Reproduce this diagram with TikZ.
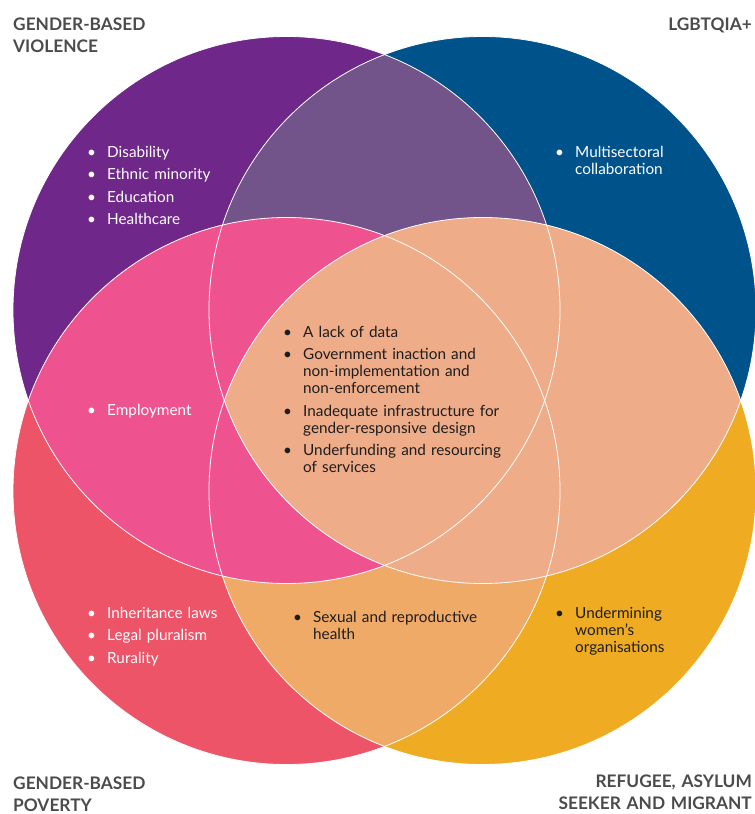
\documentclass[tikz,border=0pt]{standalone}
\usepackage{fontspec}
\setmainfont{Lato}
\usepackage{xcolor}
\usetikzlibrary{positioning}

\definecolor{violet}{HTML}{70278A}
\definecolor{navy}{HTML}{00528A}
\definecolor{coral}{HTML}{EE5468}
\definecolor{amber}{HTML}{EFAB22}
\definecolor{mauve}{HTML}{72538A}
\definecolor{rose}{HTML}{EF538F}
\definecolor{peach}{HTML}{EFAC89}
\definecolor{apricot}{HTML}{F0AA67}
\definecolor{titlegrey}{HTML}{4B4B4B}
\definecolor{ink}{HTML}{1E1E1E}

\newcommand{\bul}[1]{\noindent\hangindent=20pt\hangafter=1\makebox[20pt][l]{\textbullet}#1\par}

\begin{document}
\begin{tikzpicture}[x=1pt,y=-1pt,
    ring/.style={draw=white,line width=0.8pt},
    items/.style={anchor=base west,inner sep=0pt,text width=#1,
      font=\fontsize{15.3}{17}\selectfont\setlength{\parskip}{5.5pt}\raggedright},
    heading/.style={inner sep=0pt,text width=220pt,text=titlegrey,
      font=\bfseries\fontsize{17.3}{22}\selectfont}]
    \useasboundingbox (0,0) rectangle (755,814);
    \def\rad{273.5}

    % circle centres
    \coordinate (gbv) at (286.5,310);
    \coordinate (lgb) at (482.5,310);
    \coordinate (pov) at (286.5,491);
    \coordinate (ref) at (482.5,491);

    % Circles
    \fill[violet] (gbv) circle (\rad);
    \fill[navy] (lgb) circle (\rad);
    \fill[coral] (pov) circle (\rad);
    \fill[amber] (ref) circle (\rad);

    % Overlaps
    \begin{scope}
        \clip (gbv) circle (\rad);
        \fill[mauve] (lgb) circle (\rad);
    \end{scope}
    \begin{scope}
        \clip (pov) circle (\rad);
        \fill[apricot] (ref) circle (\rad);
    \end{scope}
    \begin{scope}
        \clip (gbv) circle (\rad);
        \fill[rose] (pov) circle (\rad);
    \end{scope}
    \begin{scope}
        \clip (lgb) circle (\rad);
        \fill[peach] (ref) circle (\rad);
    \end{scope}

    % Outlines
    \draw[ring] (gbv) circle (\rad);
    \draw[ring] (lgb) circle (\rad);
    \draw[ring] (pov) circle (\rad);
    \draw[ring] (ref) circle (\rad);

    % Headings
    \node[heading,anchor=base west,align=left] (tgbv) at (13,30) {GENDER-BASED\\VIOLENCE};
    \node[heading,anchor=base east,align=right] (tlgb) at (752,30) {LGBTQIA+};
    \node[heading,anchor=base west,align=left] (tpov) at (13,789) {GENDER-BASED\\POVERTY};
    \node[heading,anchor=base east,align=right] (tref) at (752,787) {REFUGEE, ASYLUM\\SEEKER AND MIGRANT};

    % Lists
    \node[items=150pt,text=white] (lgbv) at (87,157)
        {\bul{Disability}\bul{Ethnic minority}\bul{Education}\bul{Healthcare}};
    \node[items=150pt,text=white] (llgb) at (555,157)
        {\bul{Multisectoral\newline collaboration}};
    \node[items=130pt,text=white] (lemp) at (87,415)
        {\bul{Employment}};
    \node[items=150pt,text=white] (lpov) at (87,618)
        {\bul{Inheritance laws}\bul{Legal pluralism}\bul{Rurality}};
    \node[items=230pt,text=ink] (lmid) at (283,337)
        {\bul{A lack of data}\bul{Government inaction and\newline non-implementation and\newline non-enforcement}%
         \bul{Inadequate infrastructure for\newline gender-responsive design}\bul{Underfunding and resourcing\newline of services}};
    \node[items=200pt,text=ink] (lsex) at (293,622)
        {\bul{Sexual and reproductive\newline health}};
    \node[items=150pt,text=ink] (lref) at (555,618)
        {\bul{Undermining\newline women’s\newline organisations}};
\end{tikzpicture}
\end{document}
